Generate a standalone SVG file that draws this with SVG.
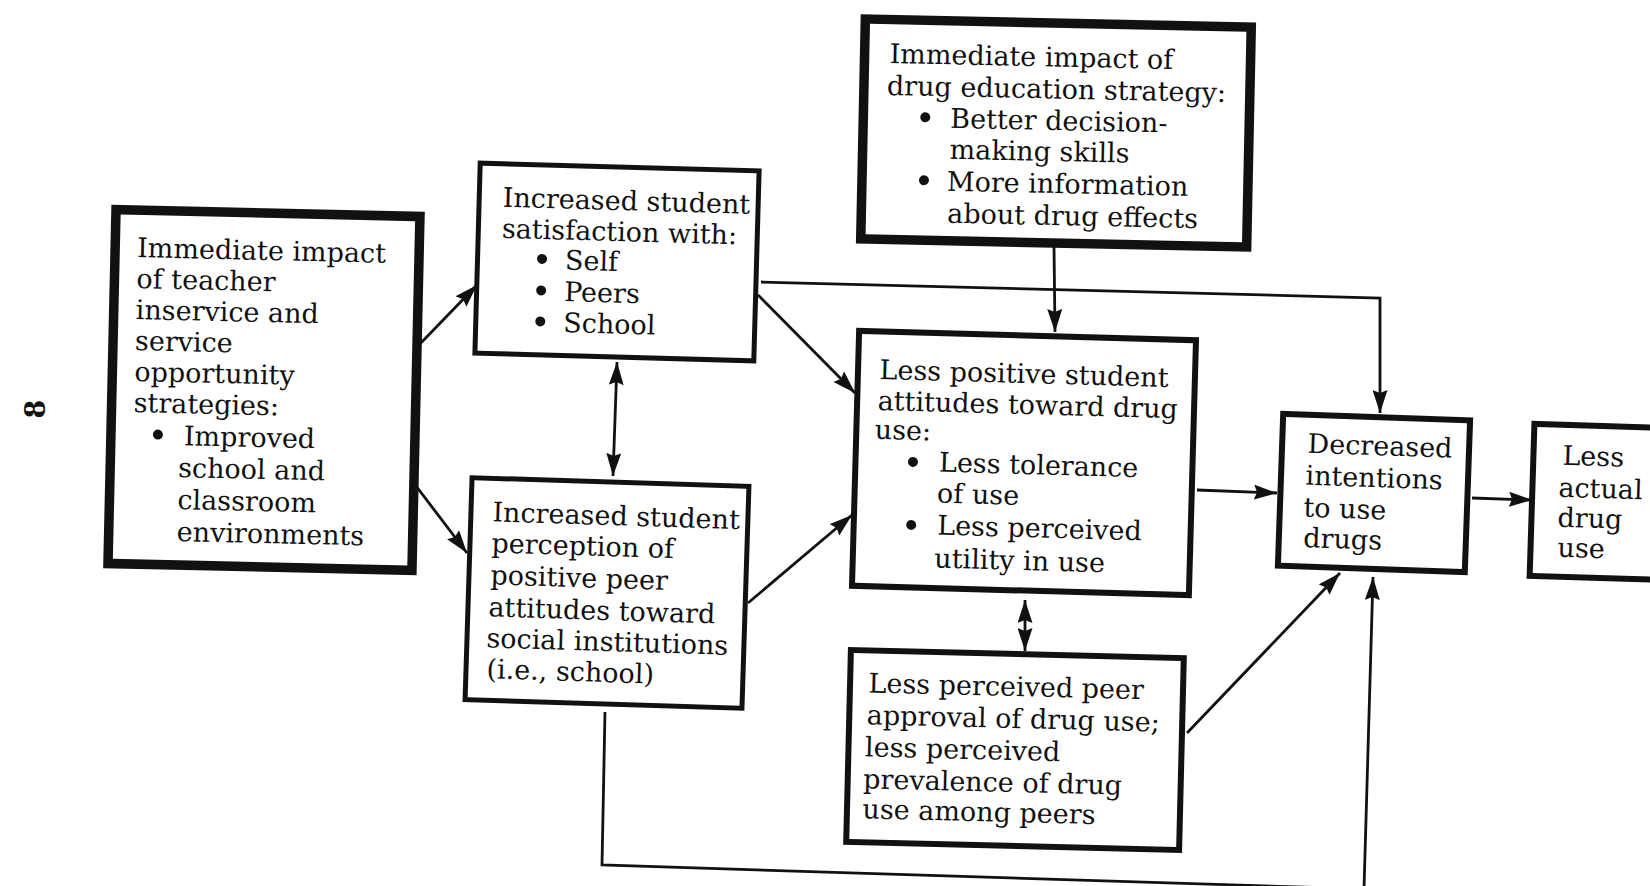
<svg xmlns="http://www.w3.org/2000/svg" width="1650" height="886" viewBox="0 0 1650 886">
<defs>
<style>
.box{fill:#fff;stroke:#111;stroke-width:6}
.b5{stroke-width:5}
.thick{stroke-width:9.5}
.t{font-family:"DejaVu Serif","Liberation Serif",serif;font-size:27px;fill:#111}
.conn{fill:none;stroke:#111;stroke-width:2.8}
.dot{fill:#111}
</style>
<marker id="arr" viewBox="0 0 23 15" refX="23" refY="7.5" markerWidth="23" markerHeight="15" markerUnits="userSpaceOnUse" orient="auto-start-reverse">
<path d="M0,0 L23,7.5 L0,15 L3,7.5 Z" fill="#111"/>
</marker>
</defs>
<rect width="1650" height="886" fill="#fff"/>

<text class="t" font-weight="bold" font-size="24" text-anchor="middle" dominant-baseline="central" transform="translate(35,409) rotate(-90)">8</text>

<g id="connectors">
<path class="conn" d="M417,347 L477,285" marker-end="url(#arr)"/>
<path class="conn" d="M413,482 L467,553" marker-end="url(#arr)"/>
<path class="conn" d="M617,362 L613,476" marker-start="url(#arr)" marker-end="url(#arr)"/>
<path class="conn" d="M758,295 L855,393" marker-end="url(#arr)"/>
<path class="conn" d="M748,603 L852,515" marker-end="url(#arr)"/>
<path class="conn" d="M761,282 L1380,298 L1380,413" marker-end="url(#arr)"/>
<path class="conn" d="M1054,246 L1055,332" marker-end="url(#arr)"/>
<path class="conn" d="M1025,600 L1025,651" marker-start="url(#arr)" marker-end="url(#arr)"/>
<path class="conn" d="M1197,490 L1277,493" marker-end="url(#arr)"/>
<path class="conn" d="M1187,733 L1340,573" marker-end="url(#arr)"/>
<path class="conn" d="M605,712 L602,865 L1364,889 L1373,577" marker-end="url(#arr)"/>
<path class="conn" d="M1472,498 L1532,500" marker-end="url(#arr)"/>
</g>

<g id="teacher-impact" transform="rotate(1.3 264 389)">
<rect class="box thick" x="112" y="213" width="304" height="354"/>
<text class="t" x="134" y="260">Immediate impact</text>
<text class="t" x="134" y="291">of teacher</text>
<text class="t" x="134" y="322">inservice and</text>
<text class="t" x="134" y="353">service</text>
<text class="t" x="134" y="384">opportunity</text>
<text class="t" x="134" y="415">strategies:</text>
<circle class="dot" cx="159" cy="437" r="5"/>
<text class="t" x="185" y="447">Improved</text>
<text class="t" x="180" y="479">school and</text>
<text class="t" x="180" y="511">classroom</text>
<text class="t" x="180" y="543">environments</text>
</g>

<g id="satisfaction" transform="rotate(1.6 617 262)">
<rect class="box b5" x="477.5" y="167" width="279" height="190"/>
<text class="t" x="501" y="210">Increased student</text>
<text class="t" x="501" y="241">satisfaction with:</text>
<circle class="dot" cx="542" cy="261" r="5"/>
<text class="t" x="565" y="271">Self</text>
<circle class="dot" cx="542" cy="292.5" r="5"/>
<text class="t" x="565" y="302.5">Peers</text>
<circle class="dot" cx="542" cy="323.5" r="5"/>
<text class="t" x="565" y="333.5">School</text>
</g>

<g id="peer-perception" transform="rotate(1.8 607 593)">
<rect class="box b5" x="468.5" y="482" width="277" height="222"/>
<text class="t" x="490" y="525">Increased student</text>
<text class="t" x="490" y="556">perception of</text>
<text class="t" x="490" y="588">positive peer</text>
<text class="t" x="489" y="620">attitudes toward</text>
<text class="t" x="488" y="651">social institutions</text>
<text class="t" x="489" y="682">(i.e., school)</text>
</g>

<g id="drug-education" transform="rotate(1.2 1056 133)">
<rect class="box thick" x="863" y="23" width="386" height="220"/>
<text class="t" x="888" y="66.5">Immediate impact of</text>
<text class="t" x="886" y="98.5">drug education strategy:</text>
<circle class="dot" cx="925" cy="120" r="5"/>
<text class="t" x="950" y="130">Better decision-</text>
<text class="t" x="950" y="161">making skills</text>
<circle class="dot" cx="925" cy="183" r="5"/>
<text class="t" x="948" y="193">More information</text>
<text class="t" x="949" y="225">about drug effects</text>
</g>

<g id="attitudes" transform="rotate(1.6 1024 463)">
<rect class="box" x="855.5" y="335.5" width="337" height="255"/>
<text class="t" x="877" y="383">Less positive student</text>
<text class="t" x="876" y="414">attitudes toward drug</text>
<text class="t" x="874" y="443">use:</text>
<circle class="dot" cx="913" cy="465" r="5"/>
<text class="t" x="939" y="474">Less tolerance</text>
<text class="t" x="938" y="505">of use</text>
<circle class="dot" cx="913" cy="528" r="5"/>
<text class="t" x="939" y="537">Less perceived</text>
<text class="t" x="937" y="570">utility in use</text>
</g>

<g id="peer-approval" transform="rotate(1.4 1015 750)">
<rect class="box" x="848.5" y="654" width="333" height="192"/>
<text class="t" x="867" y="696">Less perceived peer</text>
<text class="t" x="866" y="728">approval of drug use;</text>
<text class="t" x="865" y="760">less perceived</text>
<text class="t" x="864" y="792">prevalence of drug</text>
<text class="t" x="864" y="822">use among peers</text>
</g>

<g id="intentions" transform="rotate(2 1374 493)">
<rect class="box" x="1280.5" y="417" width="187" height="152"/>
<text class="t" x="1306" y="455">Decreased</text>
<text class="t" x="1305" y="487">intentions</text>
<text class="t" x="1304" y="519">to use</text>
<text class="t" x="1305" y="549.5">drugs</text>
</g>

<g id="actual-use" transform="rotate(1.8 1632 503)">
<rect class="box" x="1532" y="427" width="200" height="152"/>
<text class="t" x="1561" y="467">Less</text>
<text class="t" x="1558" y="499">actual</text>
<text class="t" x="1558" y="529">drug</text>
<text class="t" x="1559" y="559">use</text>
</g>
</svg>
